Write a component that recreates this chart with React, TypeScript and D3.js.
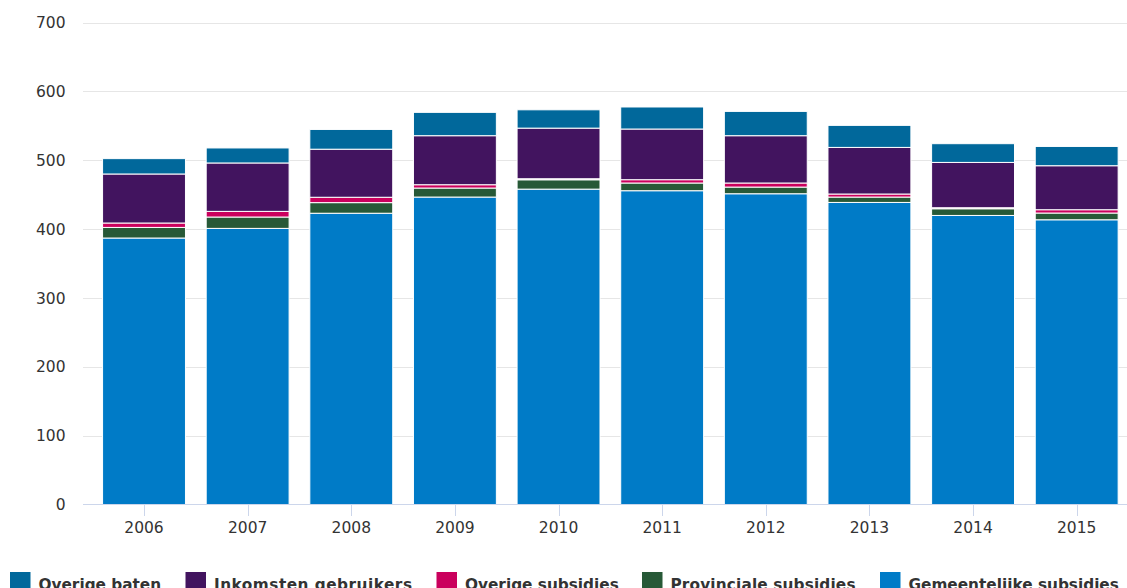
import React, { useEffect, useRef } from "react";
import * as d3 from "d3";

const years = ["2006", "2007", "2008", "2009", "2010", "2011", "2012", "2013", "2014", "2015"];
const gemeentelijkeSubsidies = [387, 401, 423, 446.5, 458, 455.7, 451.3, 438.7, 419.8, 413.5];
const provincialeSubsidies = [15.4, 16.5, 15.4, 13.1, 13.6, 11.2, 9.7, 7.8, 9.7, 9.8];
const overigeSubsidies = [6.4, 8.2, 7.8, 4.8, 1.5, 4.8, 5.9, 4.4, 1.5, 4.8];
const inkomstenGebruikers = [71.2, 70.3, 69.8, 71.2, 73.5, 73.6, 68.7, 67.7, 65.8, 63.9];
const overigeBaten = [22.3, 21.8, 28.7, 33.9, 26.6, 32, 35.3, 32, 27.2, 28];
const yTicks = [0, 100, 200, 300, 400, 500, 600, 700];

const seriesNames = ["Gemeentelijke subsidies", "Provinciale subsidies", "Overige subsidies", "Inkomsten gebruikers", "Overige baten"];
const seriesValues = [gemeentelijkeSubsidies, provincialeSubsidies, overigeSubsidies, inkomstenGebruikers, overigeBaten];
const seriesColors = ["#007bc7", "#275937", "#ca005d", "#42145f", "#01689b"];
const legendOrder = [4, 3, 2, 1, 0];

const W = 1127;
const H = 588;
const legendX = [10, 185.5, 436.5, 642, 880];

export default function App() {
  const ref = useRef<SVGSVGElement>(null);

  useEffect(() => {
    const svg = d3.select(ref.current);
    svg.selectAll("*").remove();

    const x = d3.scaleBand<string>().domain(years).range([92.2, 1128.5]).paddingInner(0.2).paddingOuter(0.1);
    const y = d3.scaleLinear().domain([0, 700]).range([504.5, 22.5]);

    const rows = years.map((yr, i) => {
      const r: any = { year: yr };
      seriesNames.forEach((n, s) => (r[n] = seriesValues[s][i]));
      return r;
    });
    const stack = d3.stack<any>().keys(seriesNames)(rows);

    const font = "'DejaVu Sans', Verdana, sans-serif";

    // grid
    svg.append("g")
      .selectAll("line")
      .data(yTicks.filter((t) => t > 0))
      .join("line")
      .attr("x1", 83)
      .attr("x2", W)
      .attr("y1", (d) => Math.round(y(d)) + 0.5)
      .attr("y2", (d) => Math.round(y(d)) + 0.5)
      .attr("stroke", "#e6e6e6")
      .attr("stroke-width", 1);

    // y labels
    svg.append("g")
      .selectAll("text")
      .data(yTicks)
      .join("text")
      .attr("x", 65.5)
      .attr("y", (d) => y(d))
      .attr("dy", "0.36em")
      .attr("text-anchor", "end")
      .attr("font-family", font)
      .attr("font-size", 15.5)
      .attr("fill", "#333")
      .text((d) => d);

    // bars
    svg.append("g")
      .selectAll("g")
      .data(stack)
      .join("g")
      .attr("fill", (_d, i) => seriesColors[i])
      .selectAll("rect")
      .data((d) => d)
      .join("rect")
      .attr("x", (d) => x(d.data.year)!)
      .attr("width", x.bandwidth())
      .attr("y", (d) => y(d[1]))
      .attr("height", (d) => Math.max(0, y(d[0]) - y(d[1])))
      .attr("stroke", "#ffffff")
      .attr("stroke-width", 1);

    // x axis line
    svg.append("line")
      .attr("x1", 83)
      .attr("x2", W)
      .attr("y1", 504.5)
      .attr("y2", 504.5)
      .attr("stroke", "#ccd6eb")
      .attr("stroke-width", 1);

    // ticks
    svg.append("g")
      .selectAll("line")
      .data(years)
      .join("line")
      .attr("x1", (d) => Math.round(x(d)! + x.bandwidth() / 2) + 0.5)
      .attr("x2", (d) => Math.round(x(d)! + x.bandwidth() / 2) + 0.5)
      .attr("y1", 505)
      .attr("y2", 516)
      .attr("stroke", "#ccd6eb");

    svg.append("g")
      .selectAll("text")
      .data(years)
      .join("text")
      .attr("x", (d) => x(d)! + x.bandwidth() / 2)
      .attr("y", 532.5)
      .attr("text-anchor", "middle")
      .attr("font-family", font)
      .attr("font-size", 15.5)
      .attr("fill", "#333")
      .text((d) => d);

    // legend
    const lg = svg.append("g");
    legendOrder.forEach((s, k) => {
      const lx = legendX[k];
      const nextX = k < legendX.length - 1 ? legendX[k + 1] : 1143;
      lg.append("rect")
        .attr("x", lx)
        .attr("y", 572)
        .attr("width", 20.5)
        .attr("height", 20)
        .attr("fill", seriesColors[s]);
      const t = lg.append("text")
        .attr("x", lx + 28.5)
        .attr("y", 590)
        .attr("font-family", font)
        .attr("font-weight", "bold")
        .attr("font-size", 15.3)
        .attr("fill", "#333")
        .text(seriesNames[s]);
      const w = (t.node() as SVGTextElement).getComputedTextLength();
      const target = nextX - 24.5 - (lx + 28.5);
      if (Math.abs(target - w) > 2) {
        t.attr("textLength", target).attr("lengthAdjust", "spacing");
      }
    });
  }, []);

  return (
    <svg
      ref={ref}
      width={W}
      height={H}
      style={{ position: "absolute", left: 0, top: 0, background: "#fff" }}
    />
  );
}
